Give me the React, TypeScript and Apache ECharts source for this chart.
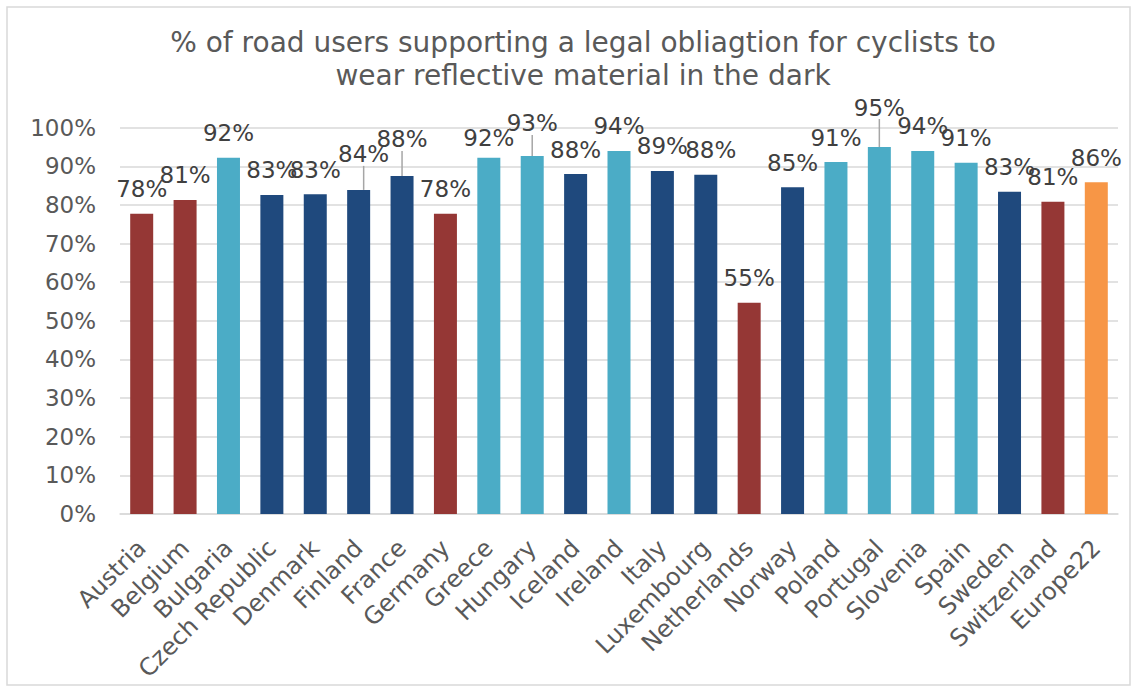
import React, { useEffect, useRef } from "react";
import * as echarts from "echarts";

const countries = [
  "Austria", "Belgium", "Bulgaria", "Czech Republic", "Denmark", "Finland", "France",
  "Germany", "Greece", "Hungary", "Iceland", "Ireland", "Italy", "Luxembourg",
  "Netherlands", "Norway", "Poland", "Portugal", "Slovenia", "Spain", "Sweden",
  "Switzerland", "Europe22",
];
const support = [
  77.7, 81.3, 92.2, 82.6, 82.8, 83.9, 87.5, 77.7, 92.2, 92.7, 88.0, 94.0, 88.8, 87.8,
  54.7, 84.6, 91.1, 95.0, 94.0, 90.9, 83.4, 80.8, 85.9,
];
const groups = [
  "red", "red", "light", "dark", "dark", "dark", "dark", "red", "light", "light", "dark",
  "light", "dark", "dark", "red", "dark", "light", "light", "light", "light", "dark", "red",
  "eu",
];
const yTicks = [0, 10, 20, 30, 40, 50, 60, 70, 80, 90, 100];

const groupColors: Record<string, string> = {
  red: "#953735",
  light: "#4BACC6",
  dark: "#1F497D",
  eu: "#F79646",
};
// manual label nudges (as in the source chart)
const labelNudges: Record<string, { dx: number; dy: number; line?: boolean }> = {
  Finland: { dx: 5, dy: -11, line: true },
  France: { dx: 0, dy: -12, line: true },
  Greece: { dx: 0, dy: 5 },
  Hungary: { dx: 0, dy: -8, line: true },
  Luxembourg: { dx: 5, dy: 0 },
  Portugal: { dx: 0, dy: -15, line: true },
};

const FONT = "'DejaVu Sans', Verdana, sans-serif";

export default function App() {
  const ref = useRef<HTMLDivElement>(null);
  useEffect(() => {
    if (!ref.current) return;
    const chart = echarts.init(ref.current, null, { renderer: "svg" });
    chart.setOption({
      animation: false,
      backgroundColor: "#ffffff",
      title: {
        text: "% of road users supporting a legal obliagtion for cyclists to\nwear reflective material in the dark",
        left: 578,
        textAlign: "center",
        top: 21,
        textStyle: {
          fontFamily: FONT,
          fontSize: 28,
          fontWeight: "normal",
          color: "#595959",
          lineHeight: 33,
        },
      },
      graphic: [
        {
          type: "rect",
          shape: { x: 7, y: 7, width: 1123, height: 678 },
          style: { fill: "none", stroke: "#d9d9d9", lineWidth: 1.5 },
          silent: true,
        },
      ],
      grid: { left: 120, right: 19, top: 127.7, bottom: 176 },
      xAxis: {
        type: "category",
        data: countries,
        axisLine: { lineStyle: { color: "#d9d9d9", width: 1.5 } },
        axisTick: { show: false },
        axisLabel: {
          rotate: 45,
          interval: 0,
          margin: 30,
          fontFamily: FONT,
          fontSize: 24,
          color: "#595959",
        },
      },
      yAxis: {
        type: "value",
        min: yTicks[0],
        max: yTicks[yTicks.length - 1],
        interval: 10,
        axisLine: { show: false },
        axisTick: { show: false },
        splitLine: { lineStyle: { color: "#d9d9d9", width: 1.5 } },
        axisLabel: {
          formatter: "{value}%",
          margin: 24,
          fontFamily: FONT,
          fontSize: 23,
          color: "#595959",
        },
      },
      series: [
        {
          type: "bar",
          barWidth: "53%",
          data: support.map((v, i) => ({
            value: v,
            itemStyle: { color: groupColors[groups[i]] },
            labelLine: { show: !!(labelNudges[countries[i]] && labelNudges[countries[i]].line) },
          })),
          label: {
            show: true,
            position: "top",
            distance: 13,
            fontFamily: FONT,
            fontSize: 23,
            color: "#404040",
            formatter: (p: any) => Math.round(p.value) + "%",
          },
          labelLine: {
            show: false,
            lineStyle: { color: "#a6a6a6", width: 1.5 },
          },
          labelLayout: (params: any) => {
            const n = labelNudges[countries[params.dataIndex]];
            return n ? { dx: n.dx, dy: n.dy } : {};
          },
        },
      ],
    });
    return () => chart.dispose();
  }, []);
  return (
    <div
      ref={ref}
      style={{ position: "fixed", left: 0, top: 0, width: 1137, height: 690 }}
    />
  );
}
